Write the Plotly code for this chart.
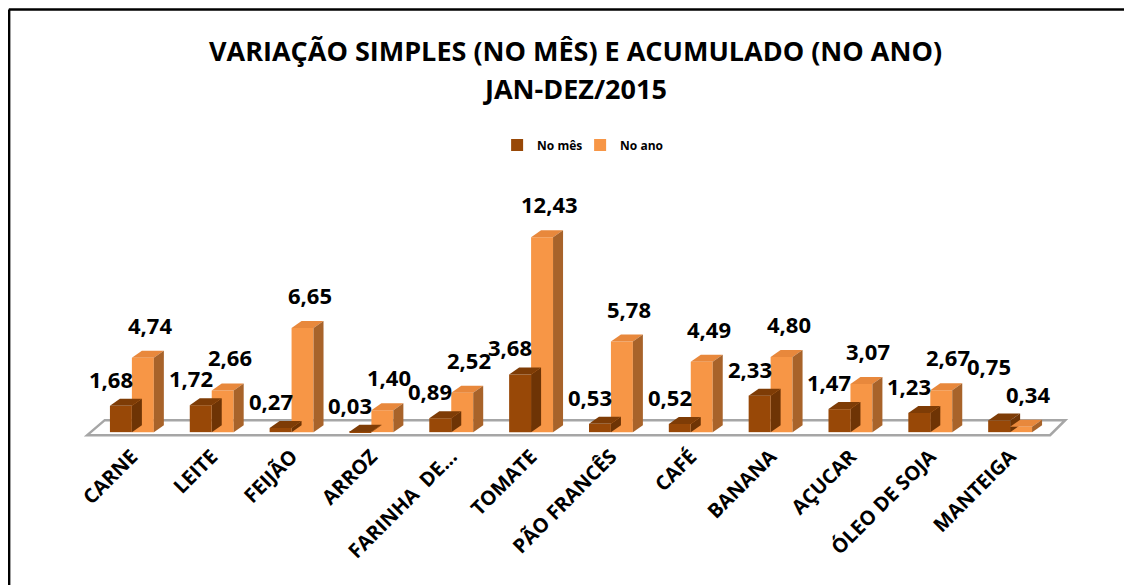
import plotly.graph_objects as go

categories = ["CARNE", "LEITE", "FEIJÃO", "ARROZ", "FARINHA  DE...", "TOMATE",
              "PÃO FRANCÊS", "CAFÉ", "BANANA", "AÇUCAR", "ÓLEO DE SOJA", "MANTEIGA"]
no_mes = [1.68, 1.72, 0.27, 0.03, 0.89, 3.68, 0.53, 0.52, 2.33, 1.47, 1.23, 0.75]
no_ano = [4.74, 2.66, 6.65, 1.40, 2.52, 12.43, 5.78, 4.49, 4.80, 3.07, 2.67, 0.34]
series_names = ["No mês", "No ano"]
title_lines = ["VARIAÇÃO SIMPLES (NO MÊS) E ACUMULADO (NO ANO)", "JAN-DEZ/2015"]

col_front = ["#984807", "#F79646"]
col_top = ["#7E3C06", "#E8883C"]
col_side = ["#6E3405", "#A8632A"]
label_dx = [-10, 7]     # label offset from bar centre (px), per series
label_dy = [27, 33]     # label offset above bar top (px), per series
FONT = "Open Sans"


def fmt(v):
    return f"{v:.2f}".replace(".", ",")


# page has an 8px body margin: work in screen pixels and convert
OFF = 8
W, H = 1124, 577
ncat = len(categories)
CAT_PX = 79.8                 # screen px per category
CAT0_SX = 132                 # screen x of first category centre
XR = [-0.7, ncat - 0.2]
YR = [-0.5, 18.0]
PLOT_SY0, PLOT_SY1 = 150, 440  # screen y of plot top / bottom

pl_sx0 = CAT0_SX + XR[0] * CAT_PX
pl_sx1 = CAT0_SX + XR[1] * CAT_PX
ML = pl_sx0 - OFF
MR = W - (pl_sx1 - OFF)
MT = PLOT_SY0 - OFF
MB = H - (PLOT_SY1 - OFF)
pw, ph = W - ML - MR, H - MT - MB
px_per_unit = ph / (YR[1] - YR[0])


def px_x(sx):
    return (sx - OFF - ML) / pw


def px_y(sy):
    return (H - MB - (sy - OFF)) / ph


BARGAP = 0.45
bar_w = (1 - BARGAP) / 2
depth_dx = 10 / CAT_PX
depth_dy = 7 / px_per_unit

fig = go.Figure()
series = [no_mes, no_ano]
for k, vals in enumerate(series):
    fig.add_trace(go.Bar(
        name=series_names[k], x=list(range(ncat)), y=vals,
        marker=dict(color=col_front[k], line=dict(width=0)),
        cliponaxis=False,
    ))

shapes = []
# floor of the 3D chart
f_front = -3 / px_per_unit
f_back = 12 / px_per_unit
shapes.append(dict(type="path", xref="x", yref="y", layer="below",
                   path=(f"M {-0.56},{f_front} L {ncat - 0.5},{f_front} "
                         f"L {ncat - 0.31},{f_back} L {-0.34},{f_back} Z"),
                   line=dict(color="#a6a6a6", width=2.5), fillcolor="white"))

annotations = []
for i in range(ncat):
    # pixel heights of the two labels; lift the "no mês" label if they sit level
    y_lab = [series[k][i] * px_per_unit + label_dy[k] for k in range(2)]
    extra = [0, 0]
    if abs(y_lab[0] - y_lab[1]) < 12:
        extra[0] = (y_lab[1] - y_lab[0]) + 28
    for k, vals in enumerate(series):
        v = vals[i]
        x0 = i - bar_w + k * bar_w
        x1 = x0 + bar_w
        shapes.append(dict(type="path", xref="x", yref="y", layer="above",
                           path=f"M {x0},{v} L {x1},{v} L {x1+depth_dx},{v+depth_dy} L {x0+depth_dx},{v+depth_dy} Z",
                           line=dict(width=0), fillcolor=col_top[k]))
        shapes.append(dict(type="path", xref="x", yref="y", layer="above",
                           path=f"M {x1},0 L {x1},{v} L {x1+depth_dx},{v+depth_dy} L {x1+depth_dx},{depth_dy} Z",
                           line=dict(width=0), fillcolor=col_side[k]))
        annotations.append(dict(
            x=(x0 + x1) / 2, y=v, xref="x", yref="y",
            text=f"<b>{fmt(v)}</b>", showarrow=False,
            xshift=label_dx[k], yshift=label_dy[k] + extra[k],
            xanchor="center", yanchor="middle",
            font=dict(family=FONT, size=22, color="black")))

annotations += [
    dict(text=f"<b>{title_lines[0]}</b>", x=px_x(575), y=px_y(50), xref="paper", yref="paper",
         showarrow=False, font=dict(family=FONT, size=27, color="black"), xanchor="center", yanchor="middle"),
    dict(text=f"<b>{title_lines[1]}</b>", x=px_x(575), y=px_y(89), xref="paper", yref="paper",
         showarrow=False, font=dict(family=FONT, size=27, color="black"), xanchor="center", yanchor="middle"),
]

shapes += [
    dict(type="line", xref="paper", yref="paper", x0=px_x(9), x1=px_x(1145), y0=px_y(9.5), y1=px_y(9.5),
         line=dict(color="black", width=2.5)),
    dict(type="line", xref="paper", yref="paper", x0=px_x(9.3), x1=px_x(9.3), y0=px_y(9.5), y1=px_y(600),
         line=dict(color="black", width=2.5)),
]

fig.update_layout(
    width=W, height=H,
    margin=dict(l=ML, r=MR, t=MT, b=MB, autoexpand=False),
    paper_bgcolor="white", plot_bgcolor="rgba(0,0,0,0)",
    barmode="group", bargap=BARGAP, bargroupgap=0.0,
    showlegend=True,
    legend=dict(orientation="h", x=px_x(580), y=px_y(145), xanchor="center", yanchor="middle",
                font=dict(family=FONT, size=12, color="black", weight="bold"),
                itemwidth=30, entrywidth=38, entrywidthmode="pixels",
                traceorder="normal", tracegroupgap=0),
    annotations=annotations,
    shapes=shapes,
    font=dict(family=FONT, color="black"),
)
fig.update_xaxes(showline=False, ticks="", automargin=False,
                 tickmode="array", tickvals=list(range(ncat)), ticktext=categories,
                 range=XR,
                 tickangle=-45, tickfont=dict(family=FONT, size=20, color="black", weight="bold"),
                 showgrid=False, zeroline=False)
fig.update_yaxes(range=YR, visible=False, showgrid=False, zeroline=False, automargin=False)

fig.write_html("out.html")
